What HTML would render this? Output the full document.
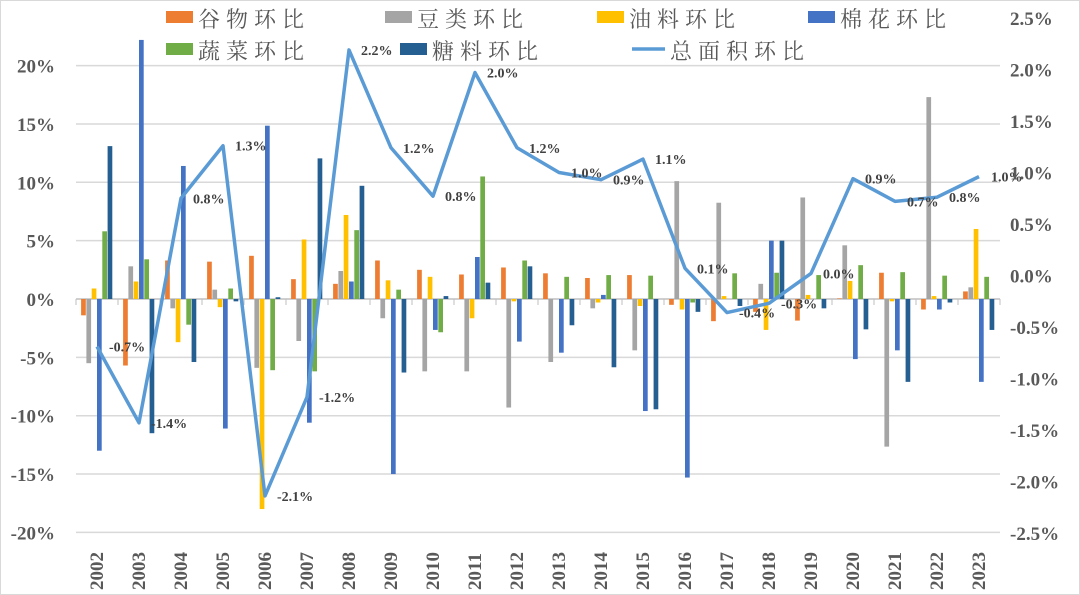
<!DOCTYPE html>
<html><head><meta charset="utf-8"><style>
html,body{margin:0;padding:0;background:#fff;}
svg{display:block;}
.tk{font-family:"Liberation Serif",serif;font-weight:bold;font-size:19px;fill:#595959;}
.lg{font-family:"Liberation Serif","Noto Serif CJK SC",serif;font-size:22px;fill:#595959;letter-spacing:6px;}
.dl{font-family:"Liberation Serif",serif;font-weight:bold;font-size:14px;fill:#404040;}
</style></head><body>
<svg id="chart" width="1080" height="595" viewBox="0 0 1080 595" xmlns="http://www.w3.org/2000/svg">
<rect x="0.5" y="0.5" width="1079" height="594" fill="#fff" stroke="#d9d9d9"/>
<g id="grid"></g>
<g id="bars"></g>
<g id="line"></g>
<g id="axes"></g>
<g id="legend">
 <rect x="166" y="11" width="27" height="12" fill="#ED7D31"/>
 <text x="198" y="27" class="lg">谷物环比</text>
 <rect x="385" y="11" width="27" height="12" fill="#A5A5A5"/>
 <text x="417" y="27" class="lg">豆类环比</text>
 <rect x="597" y="11" width="27" height="12" fill="#FFC000"/>
 <text x="629" y="27" class="lg">油料环比</text>
 <rect x="808" y="11" width="27" height="12" fill="#4472C4"/>
 <text x="840" y="27" class="lg">棉花环比</text>
 <rect x="166" y="43" width="27" height="12" fill="#70AD47"/>
 <text x="198" y="59" class="lg">蔬菜环比</text>
 <rect x="400" y="43" width="27" height="12" fill="#255E91"/>
 <text x="432" y="59" class="lg">糖料环比</text>
 <line x1="632" y1="49" x2="665" y2="49" stroke="#5B9BD5" stroke-width="3.5"/>
 <text x="670" y="59" class="lg">总面积环比</text>
</g>
</svg>
<script>
const years=["2002","2003","2004","2005","2006","2007","2008","2009","2010","2011","2012","2013","2014","2015","2016","2017","2018","2019","2020","2021","2022","2023"];
const grain=[-1.4,-5.7,3.3,3.2,3.7,1.7,1.3,3.3,2.5,2.1,2.7,2.2,1.8,2.05,-0.5,-1.9,-1.1,-1.85,0.05,2.25,-0.9,0.65];
const soy=[-5.5,2.8,-0.8,0.8,-5.9,-3.6,2.4,-1.65,-6.2,-6.2,-9.3,-5.4,-0.8,-4.4,10.1,8.25,1.3,8.7,4.6,-12.65,17.3,1.0];
const oil=[0.9,1.5,-3.7,-0.7,-18.0,5.1,7.2,1.6,1.9,-1.65,-0.2,0,-0.3,-0.6,-0.9,0.25,-2.65,0.35,1.55,-0.2,0.25,6.0];
const cotton=[-13.0,22.2,11.4,-11.1,14.85,-10.6,1.5,-15.0,-2.65,3.6,-3.65,-4.6,0.35,-9.6,-15.3,0,5.0,0,-5.15,-4.4,-0.9,-7.1];
const vegetable=[5.8,3.4,-2.2,0.9,-6.1,-6.2,5.9,0.8,-2.85,10.5,3.3,1.9,2.05,2.0,-0.3,2.2,2.25,2.05,2.9,2.3,2.0,1.9];
const sugar=[13.1,-11.5,-5.4,-0.2,0.15,12.05,9.7,-6.3,0.25,1.4,2.8,-2.25,-5.85,-9.45,-1.1,-0.6,5.0,-0.8,-2.6,-7.1,-0.3,-2.65];
const total=[-0.69,-1.43,0.75,1.26,-2.14,-1.18,2.19,1.24,0.77,1.97,1.24,1.0,0.93,1.13,0.07,-0.36,-0.27,0.02,0.94,0.72,0.76,0.96];
const leftTicks=[20,15,10,5,0,-5,-10,-15,-20];
const rightTicks=[2.5,2.0,1.5,1.0,0.5,0.0,-0.5,-1.0,-1.5,-2.0,-2.5];
const seriesNames=["grain","soy","oil","cotton","vegetable","sugar"];
const seriesColors=["#ED7D31","#A5A5A5","#FFC000","#4472C4","#70AD47","#255E91"];

const NS="http://www.w3.org/2000/svg";
const X0=76,X1=1000,Y0L=299,PXL=11.67,Y0R=275.5,PXR=103;
const step=(X1-X0)/years.length;
const xc=i=>X0+step*(i+0.5);
const yL=v=>Y0L-v*PXL;
const yR=v=>Y0R-v*PXR;
function mk(tag,attrs,parent){const e=document.createElementNS(NS,tag);for(const k in attrs)e.setAttribute(k,attrs[k]);parent.appendChild(e);return e;}
const grid=document.getElementById('grid'),bars=document.getElementById('bars'),line=document.getElementById('line'),axes=document.getElementById('axes');

leftTicks.forEach(t=>{
  const g=mk('line',{x1:X0,x2:X1,y1:yL(t),y2:yL(t),stroke:t===0?'#bfbfbf':'#d9d9d9','stroke-width':1.5},grid);
  
  
  const tx=mk('text',{x:55,y:yL(t)+7,'text-anchor':'end',class:'tk'},axes);
  tx.textContent=t+'%';
  
  
});
rightTicks.forEach(t=>{
  const tx=mk('text',{x:1010,y:yR(t)+7,class:'tk'},axes);
  tx.textContent=t.toFixed(1)+'%';
  
  
});
for(let i=0;i<=years.length;i++){
  const x=X0+step*i;
  const tk=mk('line',{x1:x,x2:x,y1:Y0L,y2:Y0L+6,stroke:'#bfbfbf','stroke-width':1},grid);
  
  
}
years.forEach((yr,i)=>{
  const x=xc(i)+6;
  const tx=mk('text',{x:x,y:590,class:'tk',transform:`rotate(-90 ${x} 590)`},axes);
  tx.textContent=yr;
  
  
});
const all=[grain,soy,oil,cotton,vegetable,sugar];
const bw=5.3;
all.forEach((arr,s)=>{
  arr.forEach((v,i)=>{
    const x=xc(i)-3*bw+s*bw;
    const y=Math.min(yL(v),Y0L),h=Math.abs(yL(v)-Y0L);
    const r=mk('rect',{x:x,y:y,width:bw-0.6,height:Math.max(h,0.01),fill:seriesColors[s]},bars);
    
    
  });
});
const pts=total.map((v,i)=>xc(i)+','+yR(v)).join(' ');
const pl=mk('polyline',{points:pts,fill:'none',stroke:'#5B9BD5','stroke-width':3.5,'stroke-linejoin':'round'},line);


total.forEach((v,i)=>{
  const tx=mk('text',{x:xc(i)+12,y:yR(v)+5,class:'dl'},line);
  tx.textContent=v.toFixed(1)+'%';
  
  
});
</script>
</body></html>
